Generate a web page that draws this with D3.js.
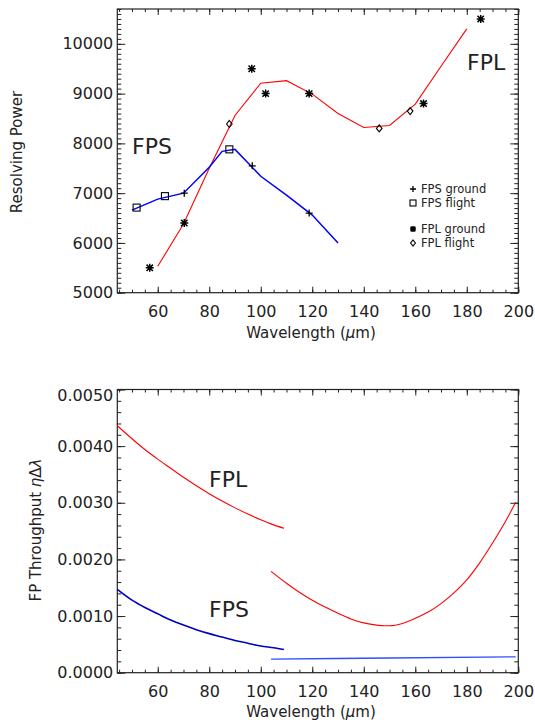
<!DOCTYPE html>
<html><head><meta charset="utf-8">
<script src="https://cdn.jsdelivr.net/npm/d3@7"></script>
<style>
body{margin:0;background:#fff}
svg text{font-family:"DejaVu Sans",sans-serif;fill:#222}
</style>
</head><body><svg id="chart" width="535" height="724"></svg>
<script>
// Resolving power: measured points (wavelength in µm, resolving power)
const fpsGround = [[70.3,7000],[96.7,7550],[118.8,6600]];
const fpsFlight = [[51.8,6710],[62.8,6940],[87.8,7880]];
const fplGround = [[56.9,5500],[70.3,6400],[96.5,9500],[101.9,9000],[118.8,9000],[163.2,8800],[185.4,10500]];
const fplFlight = [[87.8,8390],[146,8300],[158,8650]];

// Resolving power: fitted curves
const fpsFit = [[50,6660],[60,6880],[70,7000],[80,7520],[85,7840],[90,7880],[100,7340],[110,6960],[120,6560],[130,6000]];
const fplFit = [[60,5530],[70,6380],[80,7500],[90,8560],[100,9210],[110,9260],[120,8990],[130,8600],[140,8320],[150,8360],[160,8790],[170,9550],[180,10300]];

// Throughput eta*dLambda curves
const fplThroughputShort = [[44.3,0.00436],[50,0.00413],[55,0.00394],[60,0.00377],[65,0.00361],[70,0.00345],[75,0.00330],[80,0.00316],[85,0.00303],[90,0.00291],[95,0.00280],[100,0.00270],[105,0.00261],[109,0.00255]];
const fplThroughputLong = [[104,0.00179],[110,0.00158],[115,0.00142],[120,0.00128],[125,0.00116],[130,0.00105],[135,0.00095],[140,0.00088],[145,0.00084],[148,0.00083],[150,0.00083],[155,0.00087],[160,0.00096],[165,0.00107],[170,0.00122],[175,0.00141],[180,0.00164],[185,0.00194],[190,0.00229],[195,0.00267],[199,0.00301]];
const fpsThroughputShort = [[44.3,0.00147],[50,0.00128],[55,0.00115],[60,0.00104],[65,0.00093],[70,0.00084],[75,0.00076],[80,0.00069],[85,0.00063],[90,0.00057],[95,0.00052],[100,0.00047],[105,0.00044],[109,0.00041]];
const fpsThroughputLong = [[104,0.00024],[150,0.00026],[199,0.00028]];

// Axis ticks
const xMajor = [60,80,100,120,140,160,180,200];
const rMajor = [5000,6000,7000,8000,9000,10000];
const tMajor = [0,0.001,0.002,0.003,0.004,0.005];

const svg = d3.select("#chart");
const L = 117.3, R = 518.3;
const top1 = 9, bot1 = 292.7;
const top2 = 389.5, bot2 = 672.7;

const x1 = d3.scaleLinear().domain([44.3,200]).range([L,R]);
const y1 = d3.scaleLinear().domain([5000,10700]).range([bot1,top1]);
const x2 = d3.scaleLinear().domain([44.3,200]).range([L,R]);
const y2 = d3.scaleLinear().domain([0,0.005]).range([bot2,top2]);

function frame(g, x, y, yt, yMinorStep, yFmt, yTop, yBot) {
  g.append("rect").attr("x",L).attr("y",yTop).attr("width",R-L).attr("height",yBot-yTop)
    .attr("fill","none").attr("stroke","#222").attr("stroke-width",1.2);
  const xMinor = d3.range(45,200.1,5);
  const yMinor = d3.range(y.domain()[0], y.domain()[1]+1e-9, yMinorStep);
  const bx = g.append("g").attr("transform",`translate(0,${yBot})`)
    .call(d3.axisBottom(x).tickValues(xMajor).tickSize(-6).tickPadding(13).tickFormat(d3.format("d")));
  g.append("g").attr("transform",`translate(0,${yBot})`)
    .call(d3.axisBottom(x).tickValues(xMinor).tickSize(-3).tickFormat(""));
  g.append("g").attr("transform",`translate(0,${yTop})`)
    .call(d3.axisTop(x).tickValues(xMajor).tickSize(-6).tickFormat(""));
  g.append("g").attr("transform",`translate(0,${yTop})`)
    .call(d3.axisTop(x).tickValues(xMinor).tickSize(-3).tickFormat(""));
  const ly = g.append("g").attr("transform",`translate(${L},0)`)
    .call(d3.axisLeft(y).tickValues(yt).tickSize(-8).tickPadding(4).tickFormat(yFmt));
  g.append("g").attr("transform",`translate(${L},0)`)
    .call(d3.axisLeft(y).tickValues(yMinor).tickSize(-4).tickFormat(""));
  g.append("g").attr("transform",`translate(${R},0)`)
    .call(d3.axisRight(y).tickValues(yt).tickSize(-8).tickFormat(""));
  g.append("g").attr("transform",`translate(${R},0)`)
    .call(d3.axisRight(y).tickValues(yMinor).tickSize(-4).tickFormat(""));
  g.selectAll(".domain").remove();
  g.selectAll(".tick line").attr("stroke","#222");
  g.selectAll(".tick text").attr("font-size",16).attr("fill","#222")
    .attr("font-family","DejaVu Sans, sans-serif");
  return {bx, ly};
}

// ---------- Resolving power panel ----------
const g1 = svg.append("g");
frame(g1, x1, y1, rMajor, 100, d3.format("d"), top1, bot1);

const line1 = d3.line().x(d=>x1(d[0])).y(d=>y1(d[1]));
g1.append("path").attr("d",line1(fplFit)).attr("fill","none").attr("stroke","#ff0000").attr("stroke-width",1.1);
g1.append("path").attr("d",line1(fpsFit)).attr("fill","none").attr("stroke","#0000ff").attr("stroke-width",1.5);

// marker shapes
function plus(sel,s){ sel.append("path").attr("d",`M${-s},0H${s}M0,${-s}V${s}`).attr("stroke","#000").attr("stroke-width",1.3).attr("fill","none"); }
function square(sel,s){ sel.append("rect").attr("x",-s).attr("y",-s).attr("width",2*s).attr("height",2*s).attr("fill","none").attr("stroke","#000").attr("stroke-width",1.1); }
function star(sel,s){ const d=s*0.8; sel.append("path").attr("d",`M${-s},0H${s}M0,${-s}V${s}M${-d},${-d}L${d},${d}M${-d},${d}L${d},${-d}`).attr("stroke","#000").attr("stroke-width",1.5).attr("fill","none"); }
function diamond(sel,s){ sel.append("path").attr("d",`M0,${-s}L${s*0.8},0L0,${s}L${-s*0.8},0Z`).attr("fill","none").attr("stroke","#000").attr("stroke-width",1.1); }

function markers(data, fn, s){
  g1.append("g").selectAll("g").data(data).join("g")
    .attr("transform",d=>`translate(${x1(d[0])},${y1(d[1])})`)
    .each(function(){ fn(d3.select(this), s); });
}
markers(fpsGround, plus, 3.5);
markers(fpsFlight, square, 3.5);
markers(fplGround, star, 4);
markers(fplFlight, diamond, 3.5);

g1.append("text").attr("x",132).attr("y",154).attr("font-size",22).text("FPS");
g1.append("text").attr("x",467).attr("y",70).attr("font-size",22).text("FPL");

// legend
const legend = [["FPS ground",plus,189],["FPS flight",square,203],["FPL ground",star,229],["FPL flight",diamond,243]];
legend.forEach(([label,fn,yy])=>{
  const lg = g1.append("g").attr("transform",`translate(413,${yy})`);
  fn(lg,3);
  lg.append("text").attr("x",8).attr("y",4.2).attr("font-size",11.5).text(label);
});

g1.append("text").attr("x",311).attr("y",338).attr("text-anchor","middle").attr("font-size",15)
  .html('Wavelength (<tspan font-style="italic">μ</tspan>m)');
g1.append("text").attr("transform","translate(22,152) rotate(-90)").attr("text-anchor","middle").attr("font-size",15)
  .text("Resolving Power");

// ---------- Throughput panel ----------
const g2 = svg.append("g");
const f2 = frame(g2, x2, y2, tMajor, 0.0002, d3.format(".4f"), top2, bot2);
f2.ly.selectAll(".tick text").filter(d=>d===0.005).attr("dy","0.7em");

const line2 = d3.line().x(d=>x2(d[0])).y(d=>y2(d[1])).curve(d3.curveMonotoneX);
g2.append("path").attr("d",line2(fplThroughputShort)).attr("fill","none").attr("stroke","#ff0000").attr("stroke-width",1.1);
g2.append("path").attr("d",line2(fplThroughputLong)).attr("fill","none").attr("stroke","#ff0000").attr("stroke-width",1.1);
g2.append("path").attr("d",line2(fpsThroughputShort)).attr("fill","none").attr("stroke","#0000c0").attr("stroke-width",1.6);
g2.append("path").attr("d",line2(fpsThroughputLong)).attr("fill","none").attr("stroke","#3050ff").attr("stroke-width",1.4);

g2.append("text").attr("x",209).attr("y",487).attr("font-size",22).text("FPL");
g2.append("text").attr("x",209).attr("y",617).attr("font-size",22).text("FPS");

g2.append("text").attr("x",311).attr("y",717).attr("text-anchor","middle").attr("font-size",15)
  .html('Wavelength (<tspan font-style="italic">μ</tspan>m)');
g2.append("text").attr("transform","translate(41,530) rotate(-90)").attr("text-anchor","middle").attr("font-size",15)
  .html('FP Throughput <tspan font-style="italic">η</tspan>Δ<tspan font-style="italic">λ</tspan>');
</script>
</body></html>
